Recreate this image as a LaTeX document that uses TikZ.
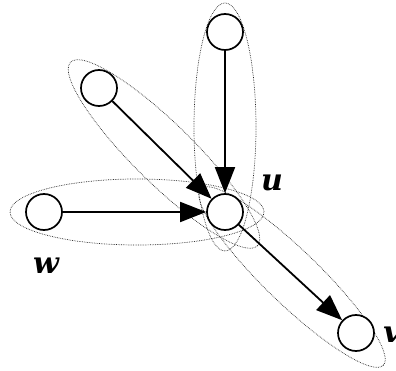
\documentclass[tikz,border=0pt]{standalone}
\usepackage{fontspec}
\setmainfont{DejaVu Serif}
\usetikzlibrary{arrows.meta}
\begin{document}
\begin{tikzpicture}[x=1pt,y=-1pt,
  vert/.style={circle,draw,line width=1.7pt,minimum size=36pt,inner sep=0pt,fill=white},
  edge/.style={line width=1.8pt,-{Triangle[length=26pt,width=20pt]}},
  grp/.style={draw=black!85,densely dotted,line width=0.7pt},
  lab/.style={font=\fontsize{30}{30}\selectfont\bfseries\itshape,inner sep=0pt}]
\useasboundingbox (0,0) rectangle (396,371);
% group ellipses
\draw[grp] (225,127) ellipse [x radius=31pt,y radius=124pt];
\draw[grp] (137,212) ellipse [x radius=127pt,y radius=33pt];
\draw[grp,rotate around={-44.5:(164,154)}] (164,154) ellipse [x radius=131pt,y radius=30pt];
\draw[grp,rotate around={-44:(292,277)}] (292,277) ellipse [x radius=127pt,y radius=27pt];
% nodes
\node[vert] (c) at (225,212) {};
\node[vert] (t) at (225,32) {};
\node[vert] (ul) at (99,88) {};
\node[vert] (w) at (44,212) {};
\node[vert] (v) at (356,333) {};
% edges
\draw[edge] (t) -- (c);
\draw[edge] (ul) -- (c);
\draw[edge] (w) -- (c);
\draw[edge] (c) -- (v);
% labels
\node[lab] (lu) at (272,183) {u};
\node[lab] (lw) at (46,266) {w};
\node[lab] (lv) at (392,335) {v};
\end{tikzpicture}
\end{document}
